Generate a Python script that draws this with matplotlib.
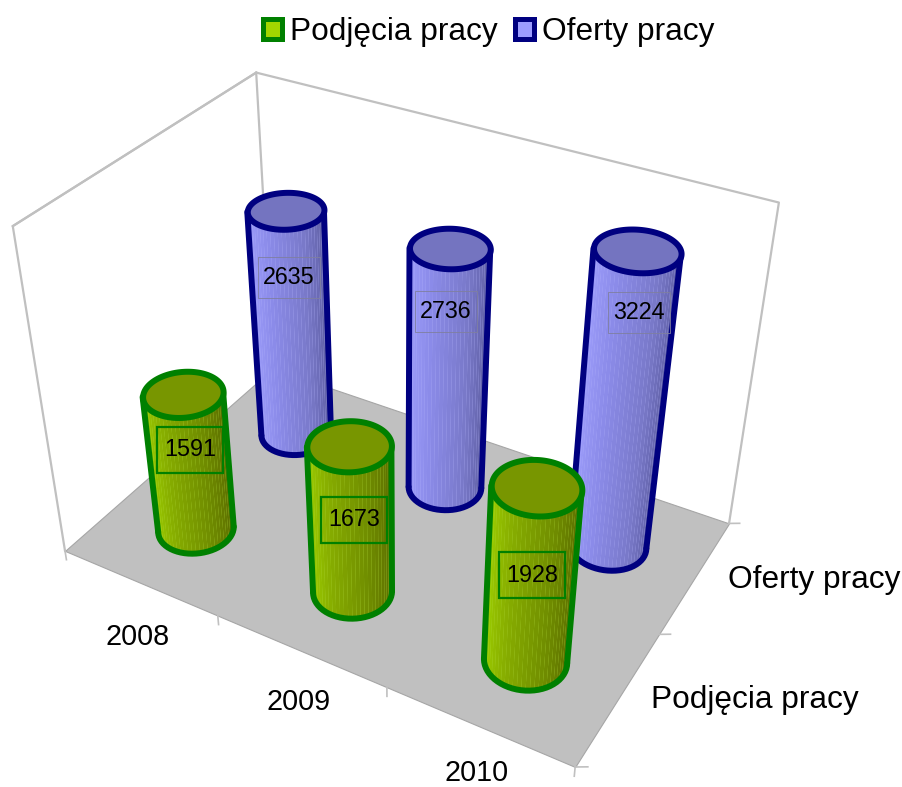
import numpy as np
import matplotlib
matplotlib.use('Agg')
import matplotlib.pyplot as plt
from matplotlib.colors import LinearSegmentedColormap
from matplotlib.patches import Patch, Rectangle
from mpl_toolkits.mplot3d import proj3d
from mpl_toolkits.mplot3d.art3d import Poly3DCollection

plt.rcParams['font.family'] = ['Liberation Sans', 'DejaVu Sans']

years = ['2008', '2009', '2010']
series = ['Podjęcia pracy', 'Oferty pracy']
podjecia = [1591, 1673, 1928]
oferty = [2635, 2736, 3224]

W, H = 902, 787
z_max = 3500
radius = 0.205
edge_w = 4.3

# pixel centres of the texts in the picture
podjecia_label_px = [(190, 450), (354, 519.5), (532.5, 575)]
oferty_label_px = [(288.5, 277.5), (446, 311), (638.5, 312)]
year_px = [(138, 637), (299, 702), (477, 773)]
series_px = [(755, 700), (814, 580)]

green = dict(edge='#008000', top='#789600', seam='#B4E040', box=(66, 46), box_lw=1.6, box_ec='#008000',
             cmap=LinearSegmentedColormap.from_list('g', ['#A2D600', '#86AC00', '#6E8A00', '#566400']))
blue = dict(edge='#000080', top='#7474C0', seam='#B8B8FF', box=(62, 41), box_lw=0.6, box_ec='#7F7F9F',
            cmap=LinearSegmentedColormap.from_list('b', ['#A0A0FF', '#8C8CEA', '#7878C8', '#565696']))

fig = plt.figure(figsize=(W/100, H/100), dpi=100)
ax = fig.add_subplot(projection='3d', computed_zorder=False)
ax.set_position([-0.0055, -0.0073, 0.8757, 1.0037])
ax.set_xlim(0, 3)
ax.set_ylim(0, 2)
ax.set_zlim(0, z_max)
ax.view_init(35.07, -59.98)
ax.set_proj_type('persp', focal_length=0.37)
ax.set_box_aspect((3.045, 2.027, 2.014))
ax.set_axis_off()


def draw_walls():
    floor = Poly3DCollection([[(0, 0, 0), (3, 0, 0), (3, 2, 0), (0, 2, 0)]],
                             facecolor='#C0C0C0', edgecolor='#A6A6A6', linewidth=0.8, zorder=1)
    ax.add_collection3d(floor)
    wall = dict(color='#C0C0C0', lw=1.6, zorder=1.5)
    ax.plot([0, 0, 0, 3, 3], [0, 0, 2, 2, 2], [0, z_max, z_max, z_max, 0], **wall)
    ax.plot([0, 0], [0, 2], [z_max, z_max], **wall)
    ax.plot([0, 0], [2, 2], [0, z_max], **wall)
    tick = dict(color='#C0C0C0', lw=1.2, zorder=1.5)
    for x in range(4):
        ax.plot([x, x], [0, 0], [0, -110], **tick)
    for y in range(3):
        ax.plot([3, 3.05], [y, y + 0.03], [0, 0], **tick)


def draw_cylinder(x, y, value, style, order):
    th = np.linspace(0, 2*np.pi, 721)
    cx = x + radius*np.cos(th)
    cy = y + radius*np.sin(th)
    M = ax.get_proj()
    sx = np.array(proj3d.proj_transform(cx, cy, np.full_like(cx, value/2), M)[0])
    left, right = th[np.argmin(sx)], th[np.argmax(sx)]
    # the visible side runs from the left silhouette over the front to the right one
    if right < left:
        right += 2*np.pi
    arc = np.linspace(left, right, 31)
    ax_x = x + radius*np.cos(arc)
    ax_y = y + radius*np.sin(arc)
    X = np.vstack([ax_x, ax_x])
    Y = np.vstack([ax_y, ax_y])
    Z = np.vstack([np.zeros_like(arc), np.full_like(arc, value)])
    # light underlay: it shows through the seams between the facets as pale streaks
    ax.plot_surface(X, Y, Z, color=style['seam'], shade=False, rstride=1, cstride=1,
                    linewidth=0, antialiased=False, zorder=order)
    shade = np.linspace(0, 1, arc.size - 1)
    ax.plot_surface(X, Y, Z, facecolors=style['cmap'](shade)[None, :, :], shade=False,
                    rstride=1, cstride=1, linewidth=0, antialiased=True, zorder=order + 0.05)
    line = dict(color=style['edge'], lw=edge_w, zorder=order + 0.1, solid_capstyle='round')
    ax.plot(ax_x, ax_y, np.zeros_like(arc), **line)
    for a in (left, right):
        ax.plot([x + radius*np.cos(a)]*2, [y + radius*np.sin(a)]*2, [0, value], **line)
    cap = Poly3DCollection([list(zip(cx, cy, np.full_like(cx, value)))], facecolor=style['top'],
                           edgecolor=style['edge'], linewidth=edge_w, zorder=order + 0.2)
    ax.add_collection3d(cap)


def value_label(v, px, py, style):
    bw, bh = style['box']
    fig.add_artist(Rectangle(((px - bw/2)/W, 1 - (py + bh/2)/H), bw/W, bh/H, transform=fig.transFigure,
                             fc='none', ec=style['box_ec'], lw=style['box_lw'], zorder=4))
    fig.text(px/W, 1 - py/H, str(v), fontsize=16.8, ha='center', va='center', zorder=5)


draw_walls()
for i, v in enumerate(oferty):
    draw_cylinder(i + 0.5, 1.5, v, blue, 10 + i)
for i, v in enumerate(podjecia):
    draw_cylinder(i + 0.5, 0.5, v, green, 20 + i)

for v, (px, py) in zip(podjecia, podjecia_label_px):
    value_label(v, px, py, green)
for v, (px, py) in zip(oferty, oferty_label_px):
    value_label(v, px, py, blue)
for t, (px, py) in zip(years, year_px):
    fig.text(px/W, 1 - py/H, t, fontsize=20.7, ha='center', va='center')
for t, (px, py) in zip(series, series_px):
    fig.text(px/W, 1 - py/H, t, fontsize=22.8, ha='center', va='center')

handles = [Patch(facecolor='#A2D600', edgecolor='#008000', lw=3.6, joinstyle='round', label=series[0]),
           Patch(facecolor='#9C9CFF', edgecolor='#000080', lw=3.6, joinstyle='round', label=series[1])]
fig.legend(handles=handles, ncol=2, frameon=False, fontsize=22.8, loc='center',
           bbox_to_anchor=(489/W, 1 - 32/H), handlelength=0.6, handleheight=0.6,
           handletextpad=0.25, columnspacing=0.55, borderpad=0)

fig.savefig('out.png', dpi=100)
